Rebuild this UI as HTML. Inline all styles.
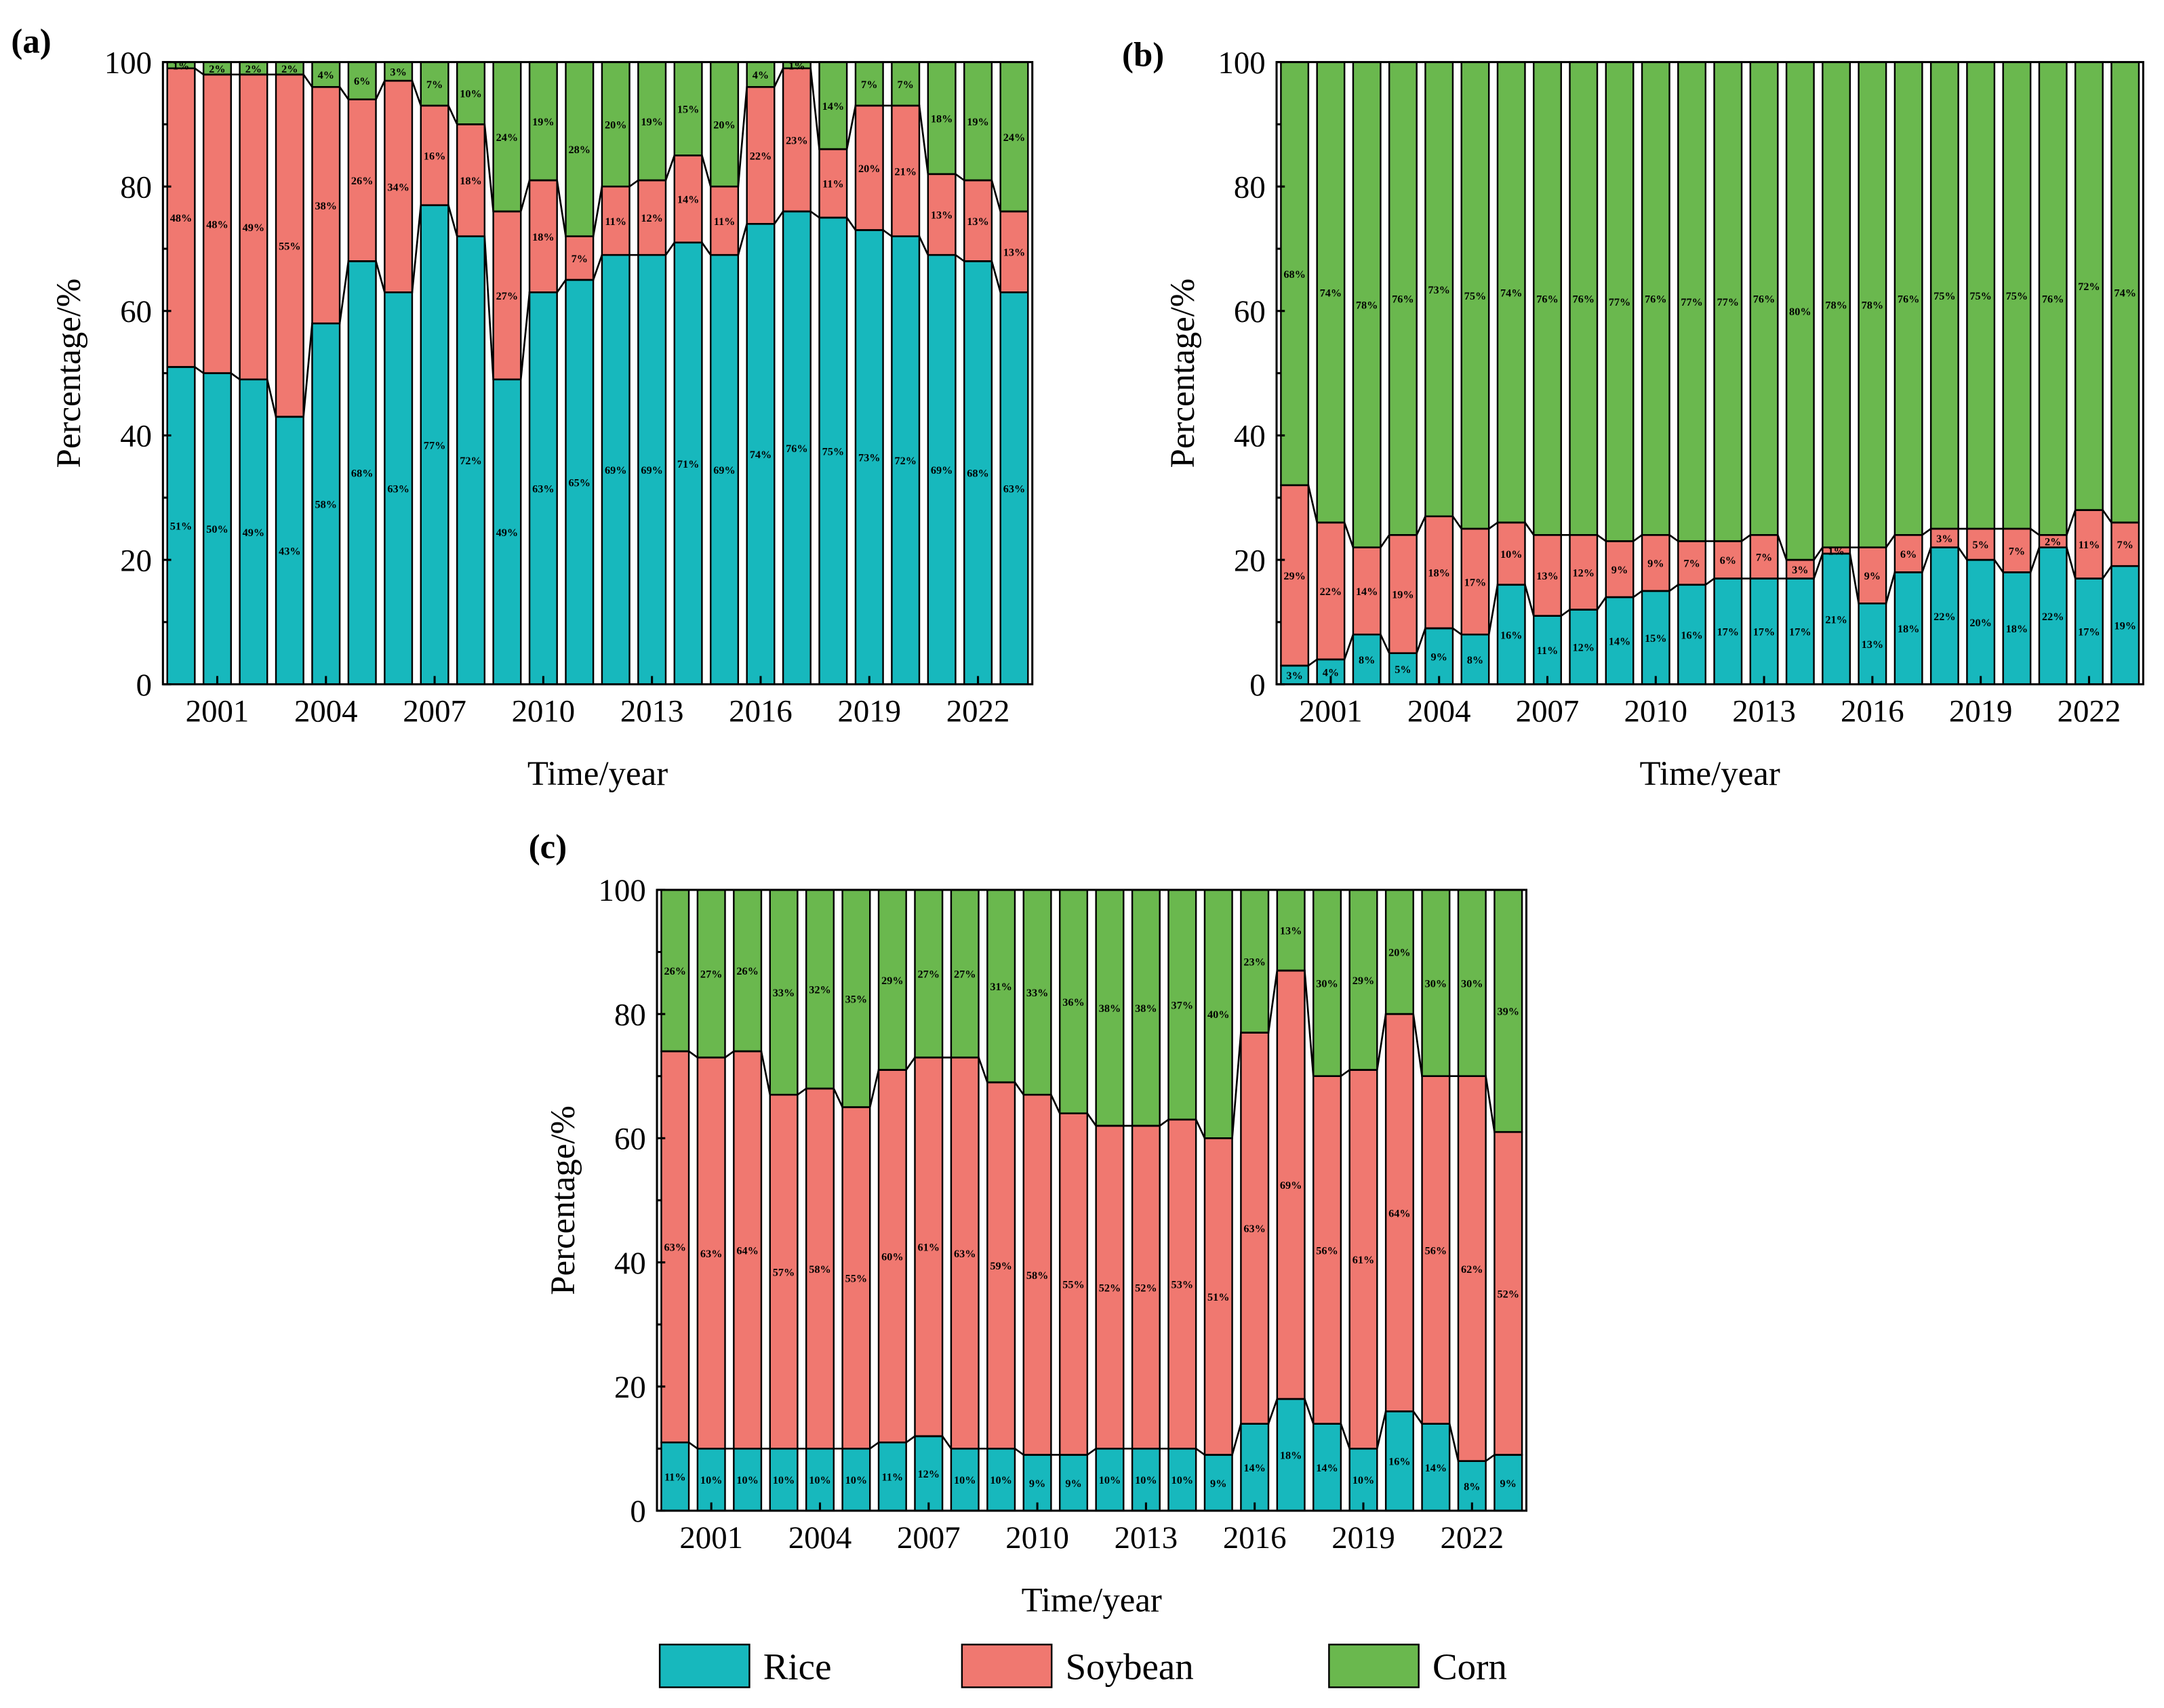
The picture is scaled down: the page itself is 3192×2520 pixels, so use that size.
<!DOCTYPE html>
<html><head><meta charset="utf-8">
<style>
html,body{margin:0;padding:0;background:#fff;}
svg{display:block;font-family:"Liberation Serif",serif;}
</style></head>
<body>
<svg id="chart" width="3192" height="2520" viewBox="0 0 1568 1238" xmlns="http://www.w3.org/2000/svg"></svg>
<script>
const years=[2000,2001,2002,2003,2004,2005,2006,2007,2008,2009,2010,2011,2012,2013,2014,2015,2016,2017,2018,2019,2020,2021,2022,2023];
const tickYears=[2001,2004,2007,2010,2013,2016,2019,2022];
const yTicks=[0,20,40,60,80,100];
const riceA=[51,50,49,43,58,68,63,77,72,49,63,65,69,69,71,69,74,76,75,73,72,69,68,63];
const soyA=[48,48,49,55,38,26,34,16,18,27,18,7,11,12,14,11,22,23,11,20,21,13,13,13];
const cornA=[1,2,2,2,4,6,3,7,10,24,19,28,20,19,15,20,4,1,14,7,7,18,19,24];
const riceB=[3,4,8,5,9,8,16,11,12,14,15,16,17,17,17,21,13,18,22,20,18,22,17,19];
const soyB=[29,22,14,19,18,17,10,13,12,9,9,7,6,7,3,1,9,6,3,5,7,2,11,7];
const cornB=[68,74,78,76,73,75,74,76,76,77,76,77,77,76,80,78,78,76,75,75,75,76,72,74];
const riceC=[11,10,10,10,10,10,11,12,10,10,9,9,10,10,10,9,14,18,14,10,16,14,8,9];
const soyC=[63,63,64,57,58,55,60,61,63,59,58,55,52,52,53,51,63,69,56,61,64,56,62,52];
const cornC=[26,27,26,33,32,35,29,27,27,31,33,36,38,38,37,40,23,13,30,29,20,30,30,39];

const COL={rice:"#17b8bd",soy:"#f07870",corn:"#6ab84e"};
const NS="http://www.w3.org/2000/svg";
const svg=document.getElementById('chart');
function el(tag,attrs,parent){const e=document.createElementNS(NS,tag);for(const k in attrs)e.setAttribute(k,attrs[k]);(parent||svg).appendChild(e);return e;}

function panel(letter,px0,px1,py0,py1,rice,soy,corn){
  const g=el('g',{});
  
  
  const n=years.length, step=(px1-px0)/n, bw=step*0.76;
  const xs=i=>px0+(i+0.5)*step;
  const ys=v=>py1-(py1-py0)*v/100;
  const series=[["rice",rice],["soy",soy],["corn",corn]];
  const lineR=[],lineS=[];
  for(let i=0;i<n;i++){
    let base=0;
    series.forEach(([k,arr])=>{
      const v=arr[i];
      const r=el('rect',{x:xs(i)-bw/2,y:ys(base+v),width:bw,height:ys(base)-ys(base+v),fill:COL[k],stroke:"#000","stroke-width":1.2},g);
      
      
      if(v>=1){
        const t=el('text',{x:xs(i),y:ys(base+v/2)+3,"font-size":8,"font-weight":"bold","text-anchor":"middle"},g);
        t.textContent=v+'%';
        
        
      }
      base+=v;
    });
    lineR.push([xs(i)-bw/2,ys(rice[i])],[xs(i)+bw/2,ys(rice[i])]);
    lineS.push([xs(i)-bw/2,ys(rice[i]+soy[i])],[xs(i)+bw/2,ys(rice[i]+soy[i])]);
  }
  [lineR,lineS].forEach((L,j)=>{
    const p=el('polyline',{points:L.map(p=>p.join(',')).join(' '),fill:"none",stroke:"#000","stroke-width":1.3},g);
    
    
  });
  const f=el('rect',{x:px0,y:py0,width:px1-px0,height:py1-py0,fill:"none",stroke:"#000","stroke-width":1.5},g);
  
  
  yTicks.forEach(v=>{
    el('line',{x1:px0,x2:px0+6,y1:ys(v),y2:ys(v),stroke:"#000","stroke-width":1.5},g);
    if(v<100) el('line',{x1:px0,x2:px0+3,y1:ys(v+10),y2:ys(v+10),stroke:"#000","stroke-width":1.5},g);
    const t=el('text',{x:px0-8,y:ys(v)+8,"font-size":23,"text-anchor":"end"},g);
    t.textContent=v;
    
    
  });
  tickYears.forEach(yr=>{
    const i=years.indexOf(yr);
    el('line',{x1:xs(i),x2:xs(i),y1:py1,y2:py1-6,stroke:"#000","stroke-width":1.5},g);
    const t=el('text',{x:xs(i),y:py1+27,"font-size":23,"text-anchor":"middle"},g);
    t.textContent=yr;
    
    
  });
  const yt=el('text',{x:0,y:0,"font-size":25,"text-anchor":"middle",transform:`translate(${px0-60},${(py0+py1)/2}) rotate(-90)`},g);
  yt.textContent='Percentage/%';
  
  
  const xt=el('text',{x:(px0+px1)/2,y:py1+73,"font-size":25,"text-anchor":"middle"},g);
  xt.textContent='Time/year';
  
  
}
panel('a',118,748,45,496,riceA,soyA,cornA);
panel('b',925,1553,45,496,riceB,soyB,cornB);
panel('c',476,1106,645,1095,riceC,soyC,cornC);

[['(a)',8,38],['(b)',813,48],['(c)',383,622]].forEach(([s,x,y])=>{
  const t=el('text',{x:x,y:y,"font-size":25,"font-weight":"bold"});
  t.textContent=s;
  
  
});
[['Rice',COL.rice,478],['Soybean',COL.soy,697],['Corn',COL.corn,963]].forEach(([s,c,x])=>{
  const r=el('rect',{x:x,y:1192,width:65,height:31,fill:c,stroke:"#000","stroke-width":1.2});
  
  
  const t=el('text',{x:x+75,y:1217,"font-size":27});
  t.textContent=s;
  
  
});
</script>
</body></html>
